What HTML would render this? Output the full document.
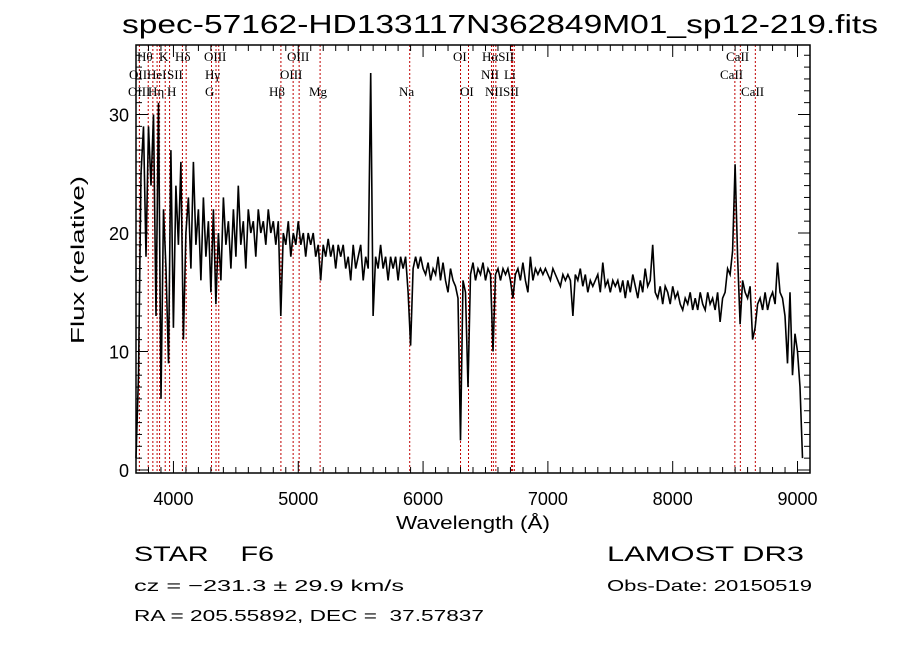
<!DOCTYPE html>
<html><head><meta charset="utf-8">
<style>
html,body{margin:0;padding:0;background:#fff;}
svg{display:block;}
text{font-family:"Liberation Sans",sans-serif;fill:#000;white-space:pre;}
.ser{font-family:"Liberation Serif",serif;font-size:13px;}
</style></head>
<body>
<svg id="chart" width="900" height="649" viewBox="0 0 900 649" xml:space="preserve">
<text x="500" y="33" font-size="26" text-anchor="middle" textLength="756" lengthAdjust="spacingAndGlyphs">spec-57162-HD133117N362849M01_sp12-219.fits</text>
<g id="lines"></g>
<g id="series"></g>
<g id="axes"></g>
<g id="labels"></g>
<text x="473" y="529" font-size="18" text-anchor="middle" textLength="154" lengthAdjust="spacingAndGlyphs">Wavelength (Å)</text>
<text transform="translate(84,260) rotate(-90)" font-size="18" text-anchor="middle" textLength="168" lengthAdjust="spacingAndGlyphs">Flux (relative)</text>
<text x="134" y="561" font-size="21" textLength="140" lengthAdjust="spacingAndGlyphs">STAR    F6</text>
<text x="607" y="561" font-size="21" textLength="197" lengthAdjust="spacingAndGlyphs">LAMOST DR3</text>
<text x="134" y="591" font-size="16" textLength="270" lengthAdjust="spacingAndGlyphs">cz = −231.3 ± 29.9 km/s</text>
<text x="607" y="591" font-size="16" textLength="205" lengthAdjust="spacingAndGlyphs">Obs-Date: 20150519</text>
<text x="134" y="621" font-size="16" textLength="350" lengthAdjust="spacingAndGlyphs">RA = 205.55892, DEC =  37.57837</text>
</svg>
<script>
const startWave = 3700;
const waveStep = 20;
const flux = [1,8,25,29,18,29,24,30,13,31,6,22,17,9,27,12,24,19,26,11,
20,23,17,26,19,22,16,23,18,21,15,22,14,20,16,23,19,21,17,22,
18,24,19,21,17,22,20,21,18,22,20,21,19,22,20,21,19,21,13,20,
19,21,18,20,19,21,19,20,18,20,19,20,18,19,16,19,18,19.5,18,19,
17,19,18,19,17,18,16,19,17,18,19,16,18,17,33.5,13,18,17,19,17,
18,16,18,17,18,16,18,17,18,15,10.5,17,18,17,18,
17,16.5,17.5,16,17,16.5,18,16,17.5,16,15,17,16,15.5,14.5,2.5,16,15,7,16.5,
17.5,16,17,16.5,17.5,16,17,16.5,10,16.5,17,16,17,16.5,17,16,14.5,16.5,17,16,
17.5,16,15,18,16,17,16.5,17,16.5,17,16.5,16,17,16.5,16,15.5,16.5,16,16.5,16,
13,16.5,16,17,15.5,16.5,15,16,15.5,16,16.5,15,17.5,15.5,16,15,16,15.5,16,15,
16,14.5,16,15,16.5,15.5,14.5,16,15,17,15.5,16,19,15,14.5,15.5,14,15.5,15,14,
15.5,14.5,15,14,13.5,14.5,14,15,13.5,14.5,13.5,15,14,13.5,15,14,14.5,13.5,15,12.5,
14.5,15,17,16.5,18.5,25.8,18,12.3,16,15,14.5,15.5,11,12,14,14.5,13.5,15,13.5,14.5,
15,14,17.5,15,14.5,13,9,15,8,11.5,10,7,1];
const lineWaves = [3727,3798,3835,3869,3889,3934,3969,4072,4102,4305,4341,4363,4861,4959,5007,5175,5893,6300,6364,6548,6563,6583,6708,6717,6731,8498,8542,8662];
const lineLabels = [
 ["Hθ",137,61],["K",159,61],["Hδ",175,61],["OIII",204,61],["OIII",287,61],["OI",453,61],["HαSII",482,61],["CaII",726,61],
 ["OII",129,79],["HeI",147,79],["SII",167,79],["Hγ",205,79],["OIII",280,79],["NII",481,79],["Li",504,79],["CaII",720,79],
 ["OIII",128,96],["Hη",148,96],["H",167,96],["G",205,96],["Hβ",269,96],["Mg",309,96],["Na",399,96],["OI",460,96],["NIISII",485,96],["CaII",741,96]
];
const xTicks = [4000,5000,6000,7000,8000,9000];
const yTicks = [0,10,20,30];

const L=136,R=810,T=45,B=473, W0=3700,W1=9100;
const X = w => L+(w-W0)*(R-L)/(W1-W0);
const Y = v => 470-11.85*v;
const NS="http://www.w3.org/2000/svg";
function mk(tag,attrs,parent){const e=document.createElementNS(NS,tag);for(const k in attrs)e.setAttribute(k,attrs[k]);parent.appendChild(e);return e;}

const gl=document.getElementById('lines');
lineWaves.forEach(w=>{
 const l=mk('line',{x1:X(w),x2:X(w),y1:T,y2:B,stroke:'#c00000','stroke-width':1,'stroke-dasharray':'2,2'},gl);
 
 
});

const gs=document.getElementById('series');
let d='';
flux.forEach((v,i)=>{const w=startWave+i*waveStep;d+=(i?'L':'M')+X(w).toFixed(1)+','+Y(v).toFixed(1);});
const p=mk('path',{d:d,fill:'none',stroke:'#000','stroke-width':1.6},gs);



const ga=document.getElementById('axes');
const fr=mk('rect',{x:L,y:T,width:R-L,height:B-T,fill:'none',stroke:'#000','stroke-width':1.5},ga);


for(let w=3700;w<=9100;w+=100){
 const maj=w%1000===0, len=maj?12:6;
 mk('line',{x1:X(w),x2:X(w),y1:B,y2:B-len,stroke:'#000'},ga);
 mk('line',{x1:X(w),x2:X(w),y1:T,y2:T+len,stroke:'#000'},ga);
}
for(let v=0;v<=35;v++){
 const maj=v%10===0, len=maj?12:6;
 if(Y(v)<T)continue;
 mk('line',{x1:L,x2:L+len,y1:Y(v),y2:Y(v),stroke:'#000'},ga);
 mk('line',{x1:R,x2:R-len,y1:Y(v),y2:Y(v),stroke:'#000'},ga);
}
xTicks.forEach(w=>{
 const t=mk('text',{x:X(w),y:505,'font-size':18,'text-anchor':'middle'},ga);
 t.textContent=w;
 
 
});
yTicks.forEach(v=>{
 const t=mk('text',{x:129,y:Y(v)+7,'font-size':18,'text-anchor':'end'},ga);
 t.textContent=v;
 
 
});

const glb=document.getElementById('labels');
lineLabels.forEach(a=>{
 const t=mk('text',{x:a[1],y:a[2],class:'ser'},glb);
 t.textContent=a[0];
 
 
});
</script>
</body></html>
